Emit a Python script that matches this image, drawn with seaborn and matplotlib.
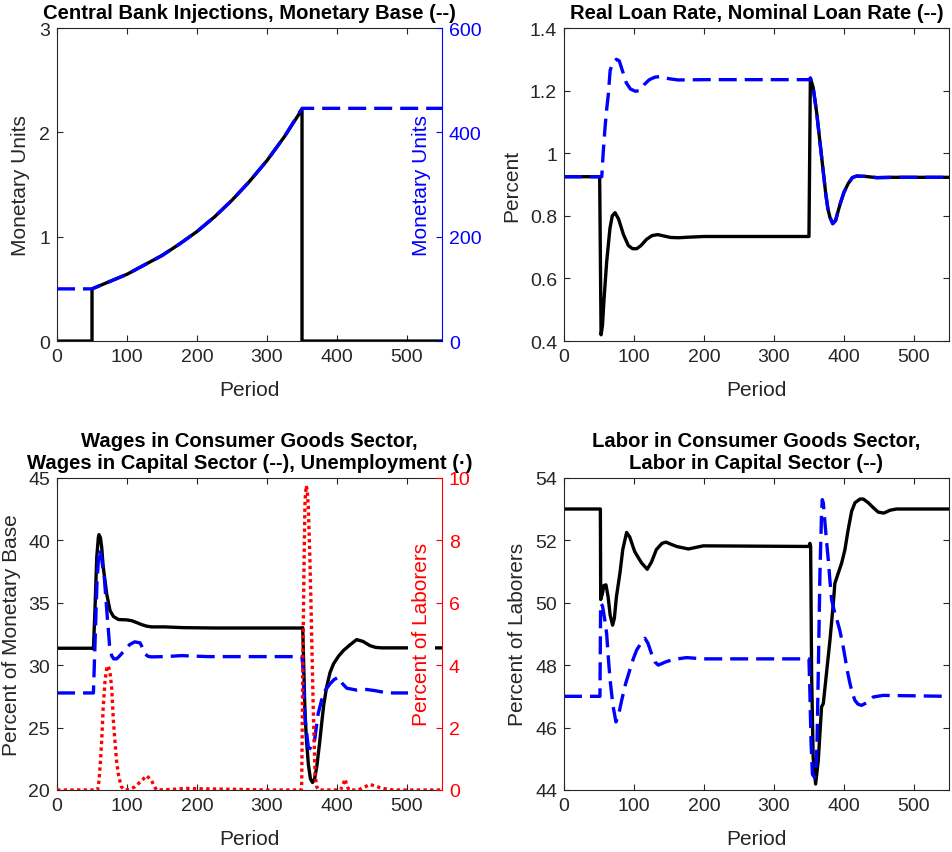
import matplotlib
matplotlib.use('Agg')
import matplotlib.pyplot as plt
import seaborn as sns

# ---- panel 1: central bank injections / monetary base ----
inj_period = [0, 50, 50, 75, 100, 125, 150, 175, 200, 225, 250, 275, 300, 325, 350, 350, 550]
inj_units = [0, 0, 0.50, 0.57, 0.64, 0.73, 0.82, 0.93, 1.05, 1.19, 1.35, 1.53, 1.73, 1.96, 2.22, 0, 0]
base_period = [0, 50, 75, 100, 125, 150, 175, 200, 225, 250, 275, 300, 325, 350, 550]
base_units = [100, 100, 114, 128, 146, 164, 186, 210, 238, 270, 306, 346, 392, 446, 446]

# ---- panel 2: real / nominal loan rate ----
real_period = [0, 51, 53, 55, 57, 61, 65.7, 69, 73, 78, 85, 92, 98, 104, 110, 118, 126, 134, 142, 152,
               163, 180, 200, 350, 352, 356, 361, 366, 370, 374, 377, 380, 384, 388, 394, 400, 406,
               412, 418, 430, 447, 470, 550]
real_rate = [0.925, 0.925, 0.42, 0.45, 0.525, 0.653, 0.76, 0.80, 0.81, 0.79, 0.74, 0.705, 0.695, 0.695,
             0.705, 0.725, 0.737, 0.74, 0.736, 0.731, 0.73, 0.732, 0.734, 0.734, 1.24, 1.21, 1.13,
             1.03, 0.95, 0.87, 0.823, 0.795, 0.775, 0.785, 0.834, 0.875, 0.903, 0.922, 0.927, 0.926,
             0.922, 0.923, 0.923]
nom_period = [0, 54, 56, 58.6, 61, 63.3, 66, 70, 75, 79, 84, 89, 95, 102, 108, 115, 122, 130, 138, 150,
              163, 200, 350, 352, 356, 361, 366, 370, 374, 377, 380, 384, 388, 394, 400, 406, 412,
              418, 430, 447, 470, 550]
nom_rate = [0.925, 0.925, 1.00, 1.08, 1.14, 1.186, 1.265, 1.29, 1.30, 1.295, 1.26, 1.225, 1.205, 1.198,
            1.20, 1.22, 1.235, 1.243, 1.245, 1.238, 1.234, 1.235, 1.235, 1.24, 1.21, 1.13, 1.03, 0.95,
            0.87, 0.823, 0.795, 0.775, 0.785, 0.834, 0.875, 0.903, 0.922, 0.927, 0.926, 0.922, 0.923,
            0.923]

# ---- panel 3: wages and unemployment ----
wc_period = [0, 50, 52, 54.3, 56.7, 59, 60, 62, 63.8, 66, 71, 75.7, 80.5, 87.6, 100, 107, 114, 121,
             128, 135, 154, 180, 226, 350, 351, 354, 356, 359, 362, 365, 368, 371, 375, 378, 381, 385,
             390, 395, 402, 409, 418, 428, 437, 447, 455, 464, 550]
wc_value = [31.35, 31.35, 31.3, 34.6, 38.6, 40.2, 40.45, 40.2, 39.45, 37.85, 35.7, 34.37, 33.9, 33.65,
            33.62, 33.55, 33.4, 33.24, 33.12, 33.06, 33.06, 33.0, 32.97, 32.97, 33.0, 26.65, 24.3,
            22.08, 20.9, 20.6, 20.9, 21.84, 23.7, 25.3, 26.8, 28.2, 29.4, 30.1, 30.7, 31.16, 31.6,
            32.04, 31.9, 31.56, 31.42, 31.38, 31.38]
wk_period = [0, 52, 53, 55, 57, 59.5, 61, 63, 67.6, 72, 73, 75, 78, 81, 85, 88, 92, 98, 104, 111,
             118.6, 122, 125.7, 130, 135, 154, 178, 216, 350, 351.9, 354, 359, 363.8, 368, 373, 378,
             383, 390, 396, 402, 408, 414, 428, 442, 455, 466, 480, 550]
wk_value = [27.77, 27.77, 29.5, 33.0, 36.5, 38.8, 39.3, 38.8, 37.0, 33.7, 33.06, 31.6, 30.76, 30.5,
            30.5, 30.65, 30.9, 31.3, 31.65, 31.86, 31.78, 31.4, 30.9, 30.7, 30.66, 30.68, 30.76,
            30.68, 30.68, 29.3, 25.85, 23.4, 23.28, 24.0, 26.1, 27.2, 27.96, 28.5, 28.85, 29.03,
            28.5, 28.15, 28.0, 28.05, 27.95, 27.83, 27.77, 27.77]
unemp_period = [0, 58, 60, 62, 63.8, 66, 68.6, 71, 73, 75.5, 78, 80.5, 83, 85, 88, 92, 97, 104, 111,
                116, 121, 128, 135, 139, 142, 165, 185, 200, 230, 260, 300, 349, 349.5, 351, 353,
                354.3, 356, 357.5, 359, 361, 362.9, 364.5, 366, 367.5, 368.6, 371, 374, 405, 409,
                411.5, 414, 417, 430, 440, 447, 455, 465, 480, 550]
unemp_value = [0, 0, 0.3, 0.9, 1.58, 2.66, 3.5, 3.9, 3.98, 3.8, 3.3, 2.22, 1.5, 0.94, 0.45, 0.1, 0.0,
               0.02, 0.1, 0.2, 0.3, 0.46, 0.3, 0.12, 0.0, 0.02, 0.05, 0.04, 0.03, 0.02, 0.0, 0.0, 0.1,
               3.7, 7.47, 9.27, 9.75, 9.6, 9.07, 7.6, 5.87, 4.2, 2.66, 1.4, 0.51, 0.1, 0.0, 0.0, 0.2,
               0.35, 0.15, 0.0, 0.0, 0.1, 0.18, 0.12, 0.05, 0.0, 0.0]

# ---- panel 4: labor shares ----
lc_period = [0, 52, 52.5, 55, 57, 60, 63, 66, 69.5, 72, 75, 80, 84, 89.5, 94, 101, 106, 111, 119, 125,
             132, 140, 145.7, 153, 161, 177.6, 199, 350, 351.4, 352.4, 353.8, 356, 359.5, 363.3, 368,
             370.5, 375, 380, 384.8, 387, 391.9, 396.7, 401.4, 406, 411, 415.7, 423, 427.6, 434.8,
             442, 449, 457, 465.7, 475, 491, 550]
lc_value = [53.0, 53.0, 50.1, 50.3, 50.55, 50.57, 50.2, 49.6, 49.28, 49.5, 50.2, 50.95, 51.7, 52.25,
            52.1, 51.64, 51.45, 51.27, 51.07, 51.3, 51.7, 51.9, 51.94, 51.87, 51.8, 51.72, 51.82,
            51.8, 51.9, 51.8, 47.7, 45.05, 44.19, 44.94, 46.66, 46.77, 47.73, 48.8, 49.98, 50.62,
            50.95, 51.27, 51.7, 52.34, 52.93, 53.2, 53.32, 53.32, 53.2, 53.04, 52.9, 52.87, 52.96,
            53.0, 53.0, 53.0]
lk_period = [0, 51.4, 52.4, 55, 58, 61, 63.5, 66, 70, 74.3, 78, 82.4, 88, 94, 99, 103.8, 110, 115.7,
             120, 125, 130, 134.7, 145, 156, 175, 200, 350, 351.5, 353, 355, 358, 360, 361.5, 363.3,
             365.7, 368, 369, 370.5, 372.9, 375, 377.6, 380, 382.4, 387, 390, 394, 398, 401.4, 405,
             408.6, 412, 415.7, 420, 425, 433, 442, 456, 550]
lk_value = [47.0, 47.0, 49.98, 49.9, 49.5, 49.0, 48.2, 47.5, 46.7, 46.18, 46.4, 46.87, 47.4, 47.84,
            48.2, 48.48, 48.7, 48.86, 48.7, 48.37, 48.1, 48.0, 48.1, 48.18, 48.24, 48.2, 48.2, 47.0,
            45.5, 44.5, 44.4, 44.6, 45.5, 47.73, 50.95, 52.87, 53.3, 53.2, 52.55, 52.0, 51.37, 50.7,
            50.09, 49.66, 49.45, 49.12, 48.7, 48.27, 47.8, 47.41, 47.1, 46.87, 46.75, 46.71, 46.8,
            46.98, 47.03, 47.0]

period_ticks = [0, 100, 200, 300, 400, 500]

sns.set_style('ticks')
plt.rcParams['font.family'] = ['Liberation Sans', 'DejaVu Sans']

DARK = '#262626'
BLUE = '#0000ff'
RED = '#ff0000'
LW = 2.4
TICK_FS = 14
LABEL_FS = 15
TITLE_FS = 14.6


def draw(ax, x, y, color, ls='-'):
    sns.lineplot(x=x, y=y, ax=ax, color=color, linewidth=LW, linestyle=ls,
                 estimator=None, sort=False, legend=False)


def style(ax, ylim, yticks, ylabel, label_x, title, twin=False):
    ax.set_xlim(0, 550)
    ax.set_xticks(period_ticks)
    ax.set_ylim(*ylim)
    ax.set_yticks(yticks)
    ax.tick_params(direction='in', length=4, width=0.8, colors=DARK, labelsize=TICK_FS,
                   top=True, right=not twin, pad=5)
    for s in ax.spines.values():
        s.set_color(DARK)
        s.set_linewidth(0.8)
    if twin:
        ax.spines['right'].set_visible(False)
    ax.set_xlabel('Period', fontsize=LABEL_FS, color=DARK)
    ax.xaxis.set_label_coords(0.5, -0.155)
    ax.xaxis.label.set_va('center')
    ax.set_ylabel(ylabel, fontsize=LABEL_FS, color=DARK)
    ax.yaxis.set_label_coords(label_x, 0.5)
    ax.yaxis.label.set_va('center')
    ax.set_title(title, fontsize=TITLE_FS, fontweight='bold', pad=7, color='black')


def right_axis(ax, color, ylim, yticks, ylabel):
    ax2 = ax.twinx()
    ax2.set_ylim(*ylim)
    ax2.set_yticks(yticks)
    ax2.tick_params(axis='y', direction='in', length=4, width=0.8, colors=color,
                    labelsize=TICK_FS, pad=5)
    for s in ax2.spines.values():
        s.set_visible(False)
    ax2.spines['right'].set_visible(True)
    ax2.spines['right'].set_color(color)
    ax2.spines['right'].set_linewidth(0.8)
    ax2.set_ylabel(ylabel, fontsize=LABEL_FS, color=color,
                   bbox=dict(facecolor='white', edgecolor='none', pad=3))
    ax2.yaxis.set_label_coords(0.946, 0.5)
    ax2.yaxis.label.set_va('center')
    return ax2


DASH = (0, (5.4, 2.4))
DOT = (0, (1, 1))

fig = plt.figure(figsize=(9.52, 8.53), dpi=100)
W, H = 0.4044, 0.367
ax1 = fig.add_axes([0.0599, 0.599, W, H])
ax2 = fig.add_axes([0.5924, 0.599, W, H])
ax3 = fig.add_axes([0.0599, 0.0727, W, 0.366])
ax4 = fig.add_axes([0.5924, 0.0727, W, 0.366])

# panel 1
draw(ax1, inj_period, inj_units, 'black')
style(ax1, (0, 3), [0, 1, 2, 3], 'Monetary Units', -0.094,
      'Central Bank Injections, Monetary Base (--)', twin=True)
ax1r = right_axis(ax1, BLUE, (0, 600), [0, 200, 400, 600], 'Monetary Units')
draw(ax1r, base_period, base_units, BLUE, DASH)

# panel 2
draw(ax2, real_period, real_rate, 'black')
draw(ax2, nom_period, nom_rate, BLUE, DASH)
style(ax2, (0.4, 1.4), [0.4, 0.6, 0.8, 1.0, 1.2, 1.4], 'Percent', -0.135,
      'Real Loan Rate, Nominal Loan Rate (--)')
ax2.set_yticklabels(['0.4', '0.6', '0.8', '1', '1.2', '1.4'])

# panel 3
draw(ax3, wc_period, wc_value, 'black')
draw(ax3, wk_period, wk_value, BLUE, DASH)
style(ax3, (20, 45), [20, 25, 30, 35, 40, 45], 'Percent of Monetary Base', -0.118,
      'Wages in Consumer Goods Sector,\nWages in Capital Sector (--), Unemployment (\u00b7)',
      twin=True)
ax3r = right_axis(ax3, RED, (0, 10), [0, 2, 4, 6, 8, 10], 'Percent of Laborers')
draw(ax3r, unemp_period, unemp_value, RED, DOT)

# panel 4
draw(ax4, lc_period, lc_value, 'black')
draw(ax4, lk_period, lk_value, BLUE, DASH)
style(ax4, (44, 54), [44, 46, 48, 50, 52, 54], 'Percent of Laborers', -0.120,
      'Labor in Consumer Goods Sector,\nLabor in Capital Sector (--)')

fig.savefig('out.png', dpi=100)
